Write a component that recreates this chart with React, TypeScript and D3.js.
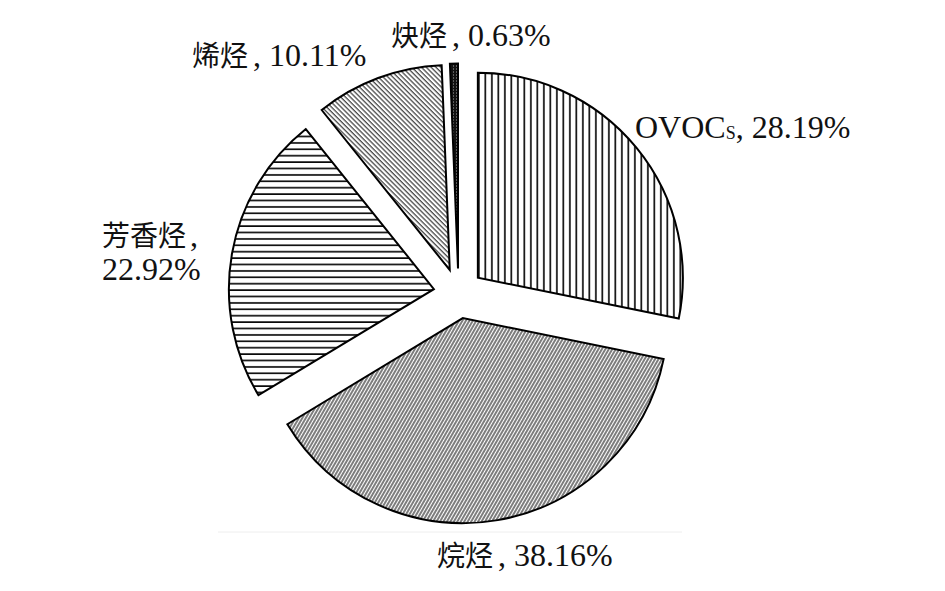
import React from 'react';
import * as d3 from 'd3';

const categories = ['OVOCs', '烷烃', '芳香烃', '烯烃', '炔烃'];
const values = [28.19, 38.16, 22.92, 10.11, 0.63];
const valueLabels = ['28.19%', '38.16%', '22.92%', '10.11%', '0.63%'];

const W = 945;
const H = 591;
const CX = 458.5;
const CY = 293.5;
const R = 205;
const EXPLODE = 25;

const patternIds = ['pVert', 'pDiagR', 'pHoriz', 'pDiagL', 'pDense'];

// label layout (x, baseline y)
const labelPos: Record<string, { x: number; y: number }[]> = {
  OVOCs: [{ x: 635, y: 138 }],
  烷烃: [{ x: 437, y: 566 }],
  芳香烃: [{ x: 102, y: 246 }, { x: 102, y: 280 }],
  烯烃: [{ x: 192, y: 66 }],
  炔烃: [{ x: 391, y: 46 }],
};

const LATIN = "'Liberation Serif', 'Times New Roman', serif";
const CJK = "'Noto Sans CJK SC', 'Liberation Serif', serif";
const LATIN_SIZE = 32;
const CJK_SIZE = 28;

function Cjk({ t }: { t: string }) {
  return (
    <tspan fontFamily={CJK} fontSize={CJK_SIZE}>
      {t}
    </tspan>
  );
}

export default function App() {
  const pie = d3.pie<number>().sort(null).value((d) => d).startAngle(0).endAngle(2 * Math.PI);
  const arcs = pie(values);
  const arcGen = d3.arc<d3.PieArcDatum<number>>().innerRadius(0).outerRadius(R);

  return (
    <svg width={W} height={H} style={{ position: 'absolute', left: 0, top: 0, background: '#fff' }}>
      <defs>
        <pattern id="pVert" width={6.5} height={10} patternUnits="userSpaceOnUse">
          <line x1={1} y1={0} x2={1} y2={10} stroke="#000" strokeWidth={1.6} />
        </pattern>
        <pattern id="pHoriz" width={10} height={6.4} patternUnits="userSpaceOnUse">
          <line x1={0} y1={1} x2={10} y2={1} stroke="#000" strokeWidth={1.6} />
        </pattern>
        <pattern id="pDiagR" width={3.0} height={10} patternUnits="userSpaceOnUse" patternTransform="rotate(30)">
          <line x1={1} y1={0} x2={1} y2={10} stroke="#111" strokeWidth={1.1} />
        </pattern>
        <pattern id="pDiagL" width={3.4} height={10} patternUnits="userSpaceOnUse" patternTransform="rotate(-45)">
          <line x1={1} y1={0} x2={1} y2={10} stroke="#111" strokeWidth={1.0} />
        </pattern>
        <pattern id="pDense" width={3} height={3} patternUnits="userSpaceOnUse">
          <rect width={3} height={3} fill="#111" />
          <rect x={1} y={1} width={1} height={1} fill="#aaa" />
        </pattern>
      </defs>
      <rect width={W} height={H} fill="#fff" />
      <line x1={218} y1={532} x2={682} y2={532} stroke="#eeeeee" strokeWidth={1} />
      <g transform={`translate(${CX},${CY})`}>
        {arcs.map((a, i) => {
          const mid = (a.startAngle + a.endAngle) / 2;
          const dx = Math.sin(mid) * EXPLODE;
          const dy = -Math.cos(mid) * EXPLODE;
          return (
            <path
              key={categories[i]}
              d={arcGen(a) || ''}
              transform={`translate(${dx},${dy})`}
              fill={`url(#${patternIds[i]})`}
              stroke="#000"
              strokeWidth={2}
              strokeLinejoin="miter"
            />
          );
        })}
      </g>
      <g fontFamily={LATIN} fontSize={LATIN_SIZE} fill="#111">
        {categories.map((c, i) => {
          const pos = labelPos[c];
          if (c === 'OVOCs') {
            return (
              <text key={c} x={pos[0].x} y={pos[0].y}>
                OVOC
                <tspan fontSize={18} dy={1}>S</tspan>
                <tspan dy={-1}>{', ' + valueLabels[i]}</tspan>
              </text>
            );
          }
          if (pos.length === 2) {
            return (
              <g key={c}>
                <text x={pos[0].x} y={pos[0].y}>
                  <Cjk t={c} />
                  <tspan dx={4}>,</tspan>
                </text>
                <text x={pos[1].x} y={pos[1].y}>{valueLabels[i]}</text>
              </g>
            );
          }
          return (
            <text key={c} x={pos[0].x} y={pos[0].y}>
              <Cjk t={c} />
              <tspan dx={5}>{', ' + valueLabels[i]}</tspan>
            </text>
          );
        })}
      </g>
    </svg>
  );
}
